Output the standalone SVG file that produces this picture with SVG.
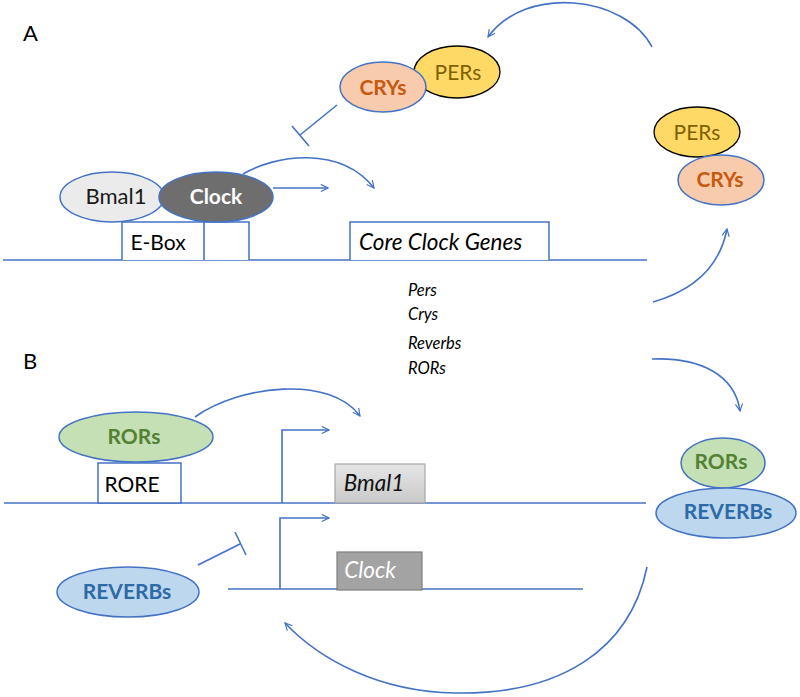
<svg xmlns="http://www.w3.org/2000/svg" width="800" height="697" viewBox="0 0 800 697">
<defs>
<marker id="arr" viewBox="0 0 10 10" refX="9" refY="5" markerWidth="9" markerHeight="9" markerUnits="userSpaceOnUse" orient="auto">
<path d="M1,1 L9,5 L1,9" fill="none" stroke="#4472c4" stroke-width="1.3"/>
</marker>
<linearGradient id="gbox" x1="0" y1="0" x2="0" y2="1">
<stop offset="0" stop-color="#e6e6e6"/>
<stop offset="1" stop-color="#c9c9c9"/>
</linearGradient>
<style>
text{font-family:Lato,"Liberation Sans",sans-serif;font-size:21px}
.c{text-anchor:middle}
.b{font-weight:bold}
.i{font-style:italic;font-size:22.5px}
.ln{fill:none;stroke:#4472c4;stroke-width:1.6}
.box{fill:#ffffff;stroke:#4472c4;stroke-width:1.5}
.e{stroke:#4472c4;stroke-width:1.5}
.per{fill:#ffd966;stroke:#000;stroke-width:1.3}
.cry{fill:#f8cbad}
.ror{fill:#c5e0b4}
.rev{fill:#bdd7ee}
.tcry{fill:#c55a11}
.tper{fill:#7f6000}
.tror{fill:#548235}
.trev{fill:#2e6aa6}
.mid{font-size:16.5px;font-style:italic;fill:#000}
.lab{font-size:22px}
</style>
</defs>

<g id="labels">
<text class="lab" x="23" y="41">A</text>
<text class="lab" x="23" y="369">B</text>
</g>

<g id="dna-lines">
<line class="ln" x1="3" y1="260" x2="647" y2="260"/>
<line class="ln" x1="4" y1="503" x2="646" y2="503"/>
<line class="ln" x1="228" y1="589" x2="583" y2="589"/>
</g>

<g id="ebox">
<path class="box" d="M122,260 V222 H249 V260"/>
<line class="ln" x1="204" y1="222" x2="204" y2="260"/>
<text class="c" x="158" y="250">E-Box</text>
</g>

<g id="core-clock-genes">
<path class="box" d="M350,260 V222 H549 V260"/>
<text class="i" x="359" y="250">Core Clock Genes</text>
</g>

<g id="bmal1-protein">
<ellipse class="e" cx="112" cy="197" rx="52" ry="25" fill="#ebebeb"/>
<text class="c" x="116" y="204" fill="#1a1a1a" style="font-size:22px">Bmal1</text>
</g>

<g id="clock-protein">
<ellipse class="e" cx="216" cy="197" rx="57" ry="25" fill="#6e6e6e"/>
<text class="c b" x="216" y="204" fill="#ffffff">Clock</text>
</g>

<g id="pers-top">
<ellipse class="per" cx="457" cy="72" rx="43" ry="26"/>
<text class="c tper" x="458" y="80">PERs</text>
</g>

<g id="crys-top">
<ellipse class="e cry" cx="383" cy="87" rx="43" ry="25"/>
<text class="c b tcry" x="383" y="95">CRYs</text>
</g>

<g id="pers-right">
<ellipse class="per" cx="697" cy="132" rx="43" ry="25"/>
<text class="c tper" x="697" y="140">PERs</text>
</g>

<g id="crys-right">
<ellipse class="e cry" cx="721" cy="180" rx="43" ry="25"/>
<text class="c b tcry" x="720" y="187">CRYs</text>
</g>

<g id="transcripts">
<text class="mid" x="408" y="296">Pers</text>
<text class="mid" x="408" y="320">Crys</text>
<text class="mid" x="408" y="349">Reverbs</text>
<text class="mid" x="408" y="374">RORs</text>
</g>

<g id="rors-left">
<ellipse class="e ror" cx="136" cy="437" rx="77" ry="25"/>
<text class="c b tror" x="134" y="444">RORs</text>
</g>

<g id="rore">
<rect class="box" x="98" y="463" width="83" height="40"/>
<text class="c" x="132" y="492">RORE</text>
</g>

<g id="bmal1-gene">
<rect x="335" y="464" width="90" height="39" fill="url(#gbox)" stroke="#a6a6a6" stroke-width="1.2"/>
<text class="c i" x="374" y="491" fill="#111">Bmal1</text>
</g>

<g id="clock-gene">
<rect x="337" y="552" width="85" height="38" fill="#a3a3a3" stroke="#7f7f7f" stroke-width="1.2"/>
<text class="c i" x="370" y="578" fill="#ffffff">Clock</text>
</g>

<g id="reverbs-left">
<ellipse class="e rev" cx="128" cy="592" rx="71" ry="25"/>
<text class="c b trev" x="127" y="599">REVERBs</text>
</g>

<g id="rors-right">
<ellipse class="e ror" cx="723" cy="463" rx="42" ry="25"/>
<text class="c b tror" x="721" y="469">RORs</text>
</g>

<g id="reverbs-right">
<ellipse class="e rev" cx="726" cy="513" rx="70" ry="25"/>
<text class="c b trev" x="728" y="519">REVERBs</text>
</g>

<g id="connectors">
<line class="ln" x1="273" y1="188" x2="328" y2="188" marker-end="url(#arr)"/>
<path class="ln" d="M243,174 C275,155 340,145 374,188" marker-end="url(#arr)"/>
<line class="ln" x1="337" y1="105" x2="300" y2="135"/>
<line class="ln" x1="292" y1="126" x2="309" y2="146"/>
<path class="ln" d="M652,47 C625,-5 525,-15 488,37" marker-end="url(#arr)"/>
<path class="ln" d="M653,302 C695,290 720,265 727,229" marker-end="url(#arr)"/>
<path class="ln" d="M652,359 C700,357 735,375 740,411" marker-end="url(#arr)"/>
<path class="ln" d="M195,417 C240,385 330,375 360,416" marker-end="url(#arr)"/>
<path class="ln" d="M282,503 V430 H329" marker-end="url(#arr)"/>
<path class="ln" d="M280,589 V518 H329" marker-end="url(#arr)"/>
<line class="ln" x1="198" y1="565" x2="240" y2="544"/>
<line class="ln" x1="235" y1="532" x2="246" y2="555"/>
<path class="ln" d="M647,567 C630,650 560,695 455,693 C380,692 320,660 285,623" marker-end="url(#arr)"/>
</g>
</svg>
